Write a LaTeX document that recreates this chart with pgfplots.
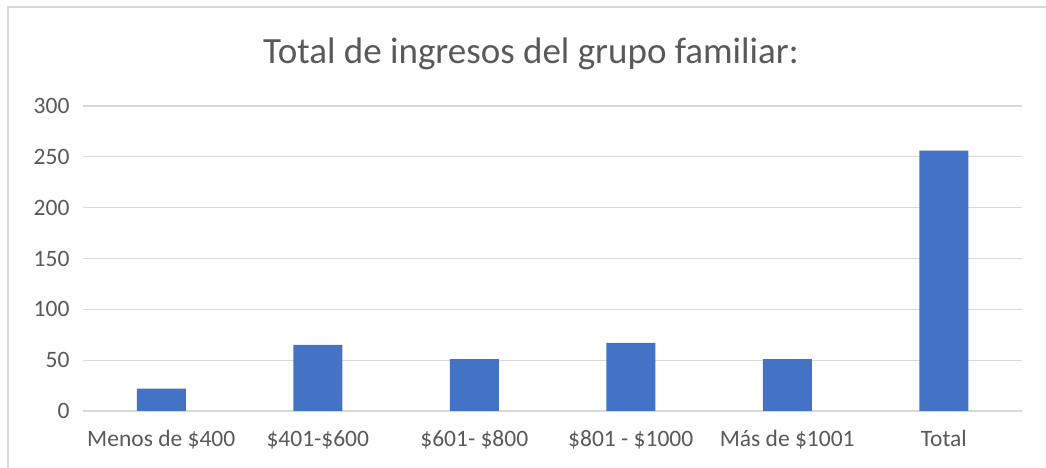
\documentclass[border=0pt]{standalone}
\usepackage{pgfplots}
\pgfplotsset{compat=1.18}
\usepackage{fontspec}
\setmainfont{Carlito}
\definecolor{barblue}{HTML}{4472C4}
\definecolor{txt}{HTML}{595959}
\definecolor{grid}{HTML}{D9D9D9}
\begin{document}
\begin{tikzpicture}[x=1pt,y=1pt]
\useasboundingbox (0,0) rectangle (1046,468);
\fill[white] (0,0) rectangle (1046,468);
\draw[grid, line width=1.2pt] (8,0) -- (8,461) -- (1046,461);
\node[txt, font=\fontsize{37}{42}\selectfont] at (531,414) {Total de ingresos del grupo familiar:};
\begin{axis}[
  at={(83pt,57pt)}, anchor=south west,
  scale only axis, width=939pt, height=305pt,
  xmin=-0.5, xmax=5.5, ymin=0, ymax=300,
  ytick={0,50,...,300},
  xtick=data,
  xticklabels={Menos de \$400,\$401-\$600,\$601- \$800,\$801 - \$1000,Más de \$1001,Total},
  axis line style={draw=none},
  axis x line*=bottom,
  x axis line style={grid, line width=1.5pt},
  xmajorgrids=false,
  ymajorgrids, y grid style={grid, line width=1.2pt},
  major tick length=0pt,
  tick style={draw=none},
  ticklabel style={txt, font=\fontsize{23.5}{28}\selectfont},
  /pgf/number format/assume math mode=true,
  yticklabel style={xshift=-10pt},
  xticklabel style={yshift=-16pt},
  ybar, bar width=49pt,
]
\addplot[fill=barblue, draw=none] coordinates {(0,22) (1,65) (2,51) (3,67) (4,51) (5,256)};
\end{axis}
\end{tikzpicture}
\end{document}
